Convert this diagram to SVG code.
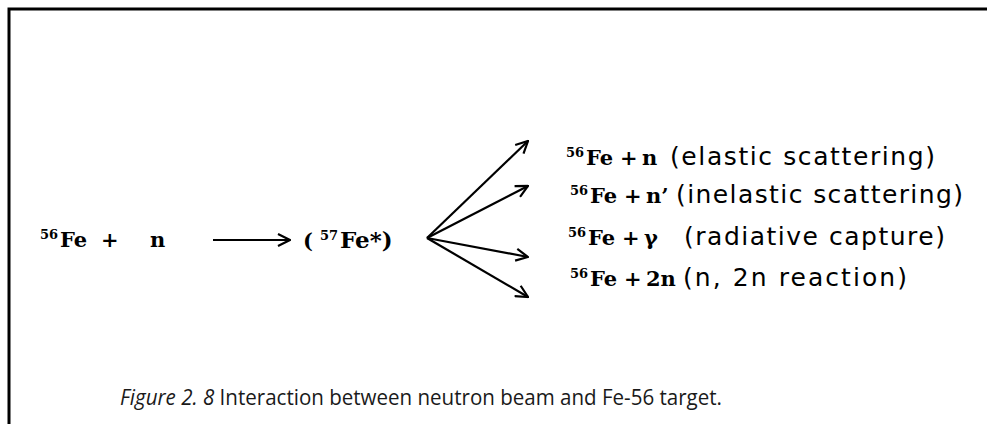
<svg xmlns="http://www.w3.org/2000/svg" width="987" height="424" viewBox="0 0 987 424">
<defs>
<style>
.f{font-family:"DejaVu Serif","Liberation Serif",serif;font-weight:bold;font-size:21px;fill:#000}
.s{font-size:13px}
.d{font-family:"DejaVu Sans","Noto Sans",sans-serif;font-size:25px;fill:#000}
.c{font-family:"Open Sans","Noto Sans",sans-serif;font-size:22px;fill:#1a1a1a}
.ln{stroke:#000;stroke-width:2.2;fill:none}
</style>
<marker id="ah" viewBox="0 0 14 14" refX="13" refY="7" markerWidth="14" markerHeight="14" markerUnits="userSpaceOnUse" orient="auto">
<path d="M1,1 L13,7 L1,13" fill="none" stroke="#000" stroke-width="2.2"/>
</marker>
</defs>
<rect width="987" height="424" fill="#fff"/>
<path d="M9,424 V9 H987" fill="none" stroke="#000" stroke-width="3"/>
<g id="reactants"><text class="f" y="247"><tspan class="s" x="40" dy="-8">56</tspan><tspan x="60" dy="8">Fe</tspan><tspan x="101">+</tspan><tspan x="150">n</tspan></text></g>
<g id="compound"><text class="f" y="248"><tspan x="303">(</tspan><tspan class="s" x="320" dy="-8">57</tspan><tspan x="340" dy="8" font-size="23">Fe*)</tspan></text></g>
<g id="elastic"><text class="f" y="165"><tspan class="s" x="566" dy="-8">56</tspan><tspan x="586" dy="8">Fe</tspan><tspan x="620">+</tspan><tspan x="642">n</tspan></text><text class="d" x="670" y="165" textLength="265">(elastic scattering)</text></g>
<g id="inelastic"><text class="f" y="203"><tspan class="s" x="570" dy="-8">56</tspan><tspan x="590" dy="8">Fe</tspan><tspan x="624">+</tspan><tspan x="646">n’</tspan></text><text class="d" x="676" y="203" textLength="287">(inelastic scattering)</text></g>
<g id="capture"><text class="f" y="245"><tspan class="s" x="568" dy="-8">56</tspan><tspan x="588" dy="8">Fe</tspan><tspan x="622">+</tspan><tspan x="644">γ</tspan></text><text class="d" x="684" y="245" textLength="261">(radiative capture)</text></g>
<g id="n2n"><text class="f" y="286"><tspan class="s" x="570" dy="-8">56</tspan><tspan x="590" dy="8">Fe</tspan><tspan x="624">+</tspan><tspan x="646">2n</tspan></text><text class="d" x="683" y="286" textLength="224">(n, 2n reaction)</text></g>
<g id="connectors">
<line class="ln" x1="213" y1="240" x2="290" y2="240" marker-end="url(#ah)"/>
<line class="ln" x1="427" y1="238" x2="528" y2="141" marker-end="url(#ah)"/>
<line class="ln" x1="427" y1="238" x2="528" y2="186" marker-end="url(#ah)"/>
<line class="ln" x1="427" y1="238" x2="528" y2="257" marker-end="url(#ah)"/>
<line class="ln" x1="427" y1="238" x2="528" y2="297" marker-end="url(#ah)"/>
</g>
<g id="caption"><text class="c" x="120" y="405" textLength="602" lengthAdjust="spacingAndGlyphs"><tspan font-style="italic">Figure 2. 8</tspan> Interaction between neutron beam and Fe-56 target.</text></g>
</svg>
